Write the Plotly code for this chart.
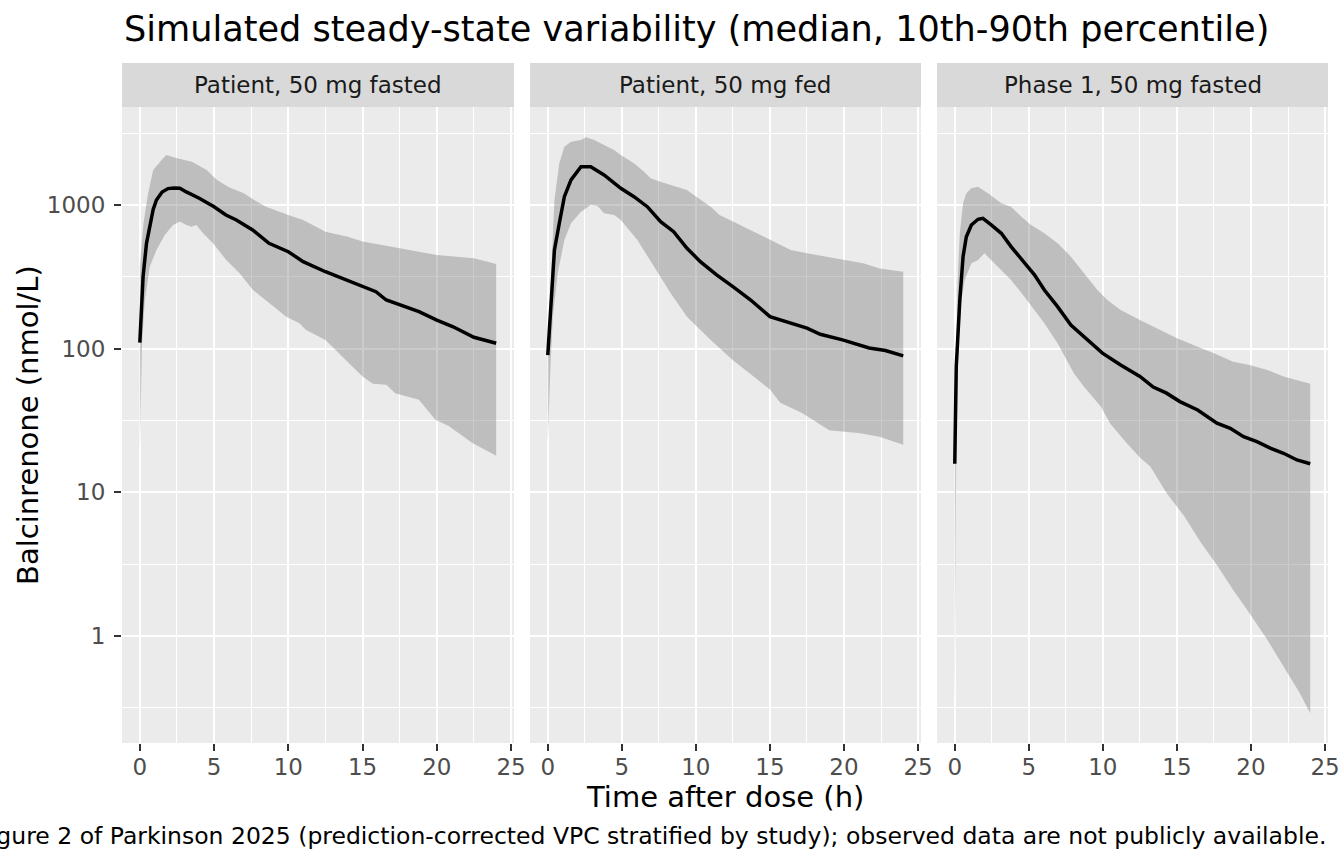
import plotly.graph_objects as go

# ---------------- data ----------------
panel_titles = ["Patient, 50 mg fasted", "Patient, 50 mg fed", "Phase 1, 50 mg fasted"]

x_ticks = [0, 5, 10, 15, 20, 25]
x_minor = [2.5, 7.5, 12.5, 17.5, 22.5]
y_ticks = [1, 10, 100, 1000]
y_tick_labels = ["1", "10", "100", "1000"]
y_minor = [0.3162, 3.162, 31.62, 316.2, 3162]

# Panel 1: Patient, 50 mg fasted
p1_t_med = [0, 0.11, 0.22, 0.45, 0.67, 0.9, 1.12, 1.5, 1.9, 2.3, 2.7, 3.1, 4.0, 5.0, 5.8, 6.5, 7.6, 8.7,
            10.0, 11.0, 12.5, 13.9, 15.0, 15.9, 16.6, 17.5, 18.8, 20.0, 21.1, 22.5, 24.0]
p1_median = [110, 200, 317, 541, 720, 930, 1083, 1230, 1300, 1315, 1310, 1238, 1113, 973, 852, 786, 670, 541,
             473, 403, 343, 301, 270, 249, 218, 201, 181, 158, 142, 120, 109]
p1_t_hi = [0, 0.25, 0.56, 0.9, 1.57, 1.79, 2.5, 3.5, 4.5, 5.2, 6.0, 7.0, 7.7, 8.5, 10.0, 11.0, 12.5, 14.0,
           15.0, 16.3, 17.5, 20.0, 22.5, 24.0]
p1_p90 = [372, 750, 1207, 1754, 2114, 2229, 2114, 2000, 1754, 1493, 1327, 1206, 1083, 973, 852, 786, 652, 601,
          556, 527, 500, 449, 426, 388]
p1_t_lo = [0, 0.15, 0.34, 0.67, 1.12, 1.68, 2.24, 2.69, 3.14, 3.47, 3.81, 4.26, 4.93, 5.82, 6.72, 7.62, 8.51,
           9.86, 10.75, 11.2, 12.5, 13.9, 15.0, 15.7, 16.6, 17.2, 18.8, 19.9, 20.8, 22.4, 24.0]
p1_p10 = [19, 110, 218, 372, 486, 618, 726, 766, 726, 706, 726, 635, 541, 414, 335, 256, 218,
          167, 150, 135, 115, 83, 64, 57, 56, 49, 44, 32, 29, 22, 18]

# Panel 2: Patient, 50 mg fed
p2_t_med = [0, 0.22, 0.45, 0.78, 1.12, 1.57, 2.24, 2.9, 3.8, 4.93, 5.82, 6.72, 7.62, 8.5, 9.4, 10.3, 11.4,
            12.5, 13.7, 15.0, 16.4, 17.5, 18.4, 19.9, 21.7, 22.8, 24.0]
p2_median = [90, 218, 486, 746, 1142, 1493, 1848, 1848, 1618, 1307, 1142, 973, 766, 652, 500, 403, 326,
             270, 218, 167, 150, 139, 126, 115, 101, 97, 89]
p2_t_hi = [0, 0.22, 0.45, 0.78, 1.12, 1.57, 2.24, 2.58, 3.14, 3.8, 4.48, 4.93, 5.82, 6.5, 6.94, 7.6, 8.3,
           9.4, 9.86, 11.0, 11.6, 12.5, 13.9, 15.0, 16.4, 17.5, 18.8, 19.9, 21.3, 22.4, 24.0]
p2_p90 = [95, 335, 1083, 1950, 2547, 2759, 2833, 2958, 2833, 2617, 2416, 2229, 1950, 1706, 1535, 1453, 1377,
          1271, 1174, 973, 852, 766, 652, 570, 486, 461, 437, 414, 393, 362, 343]
p2_t_lo = [0, 0.18, 0.34, 0.67, 1.12, 1.57, 2.24, 2.9, 3.36, 3.8, 4.48, 4.93, 6.05, 7.17, 8.3, 9.4, 11.0,
           12.5, 13.9, 15.0, 15.7, 17.2, 18.1, 19.0, 21.1, 22.4, 24.0]
p2_p10 = [22, 75, 167, 335, 570, 746, 898, 1000, 985, 875, 852, 786, 570, 372, 243, 167, 115,
          83, 64, 52, 42, 35.5, 31, 27, 25.8, 24.4, 21.4]

# Panel 3: Phase 1, 50 mg fasted
p3_t_med = [0, 0.1, 0.34, 0.56, 0.78, 1.12, 1.57, 1.9, 2.46, 3.14, 3.8, 4.7, 5.38, 6.05, 6.94, 7.84, 8.74,
            9.97, 11.2, 12.5, 13.4, 14.3, 15.2, 16.4, 17.7, 18.6, 19.5, 20.4, 21.3, 22.2, 23.1, 24.0]
p3_median = [15.8, 75, 218, 437, 601, 726, 795, 808, 726, 635, 513, 393, 326, 256, 196, 146, 121,
             93, 77, 64, 54, 49, 42.8, 37.4, 30.3, 27.9, 24.4, 22.5, 20.3, 18.7, 16.8, 15.8]
p3_t_hi = [0, 0.1, 0.18, 0.34, 0.56, 0.78, 1.12, 1.57, 2.24, 3.14, 3.8, 4.48, 5.15, 6.05, 6.94, 7.84, 8.74,
           9.63, 10.3, 11.2, 12.5, 13.9, 15.0, 16.4, 17.5, 18.8, 19.9, 21.1, 22.2, 24.0]
p3_p90 = [18, 128, 270, 635, 1027, 1206, 1307, 1342, 1206, 1027, 973, 830, 726, 635, 541, 437, 335,
          256, 218, 186, 158, 135, 118, 103, 93, 81, 77, 71, 64, 57]
p3_t_lo = [0, 0.1, 0.25, 0.45, 0.67, 1.12, 1.57, 2.0, 2.46, 3.14, 3.8, 4.7, 5.38, 6.05, 6.94, 8.06, 8.74,
           9.86, 10.5, 11.6, 12.5, 13.2, 14.3, 15.5, 16.6, 17.7, 18.8, 19.9, 21.1, 22.2, 23.3, 24.0]
p3_p10 = [0.29, 20, 110, 218, 301, 393, 414, 461, 414, 353, 301, 230, 186, 150, 109, 67, 54,
          39.5, 30, 22, 17.5, 15.1, 9.9, 6.8, 4.5, 3.12, 2.09, 1.44, 0.94, 0.61, 0.40, 0.29]

panels = [
    (p1_t_med, p1_median, p1_t_hi, p1_p90, p1_t_lo, p1_p10),
    (p2_t_med, p2_median, p2_t_hi, p2_p90, p2_t_lo, p2_p10),
    (p3_t_med, p3_median, p3_t_hi, p3_p90, p3_t_lo, p3_p10),
]

# ---------------- figure ----------------
W, H = 1344, 864
FONT = "DejaVu Sans"
x_domains = [(122 / W, 514 / W), (530 / W, 921 / W), (937 / W, 1328 / W)]
y_domain = (1 - 743 / H, 1 - 107 / H)
strip_top = 1 - 63 / H

fig = go.Figure()
for i, (tm, med, th, hi, tl, lo) in enumerate(panels):
    xa = "x" if i == 0 else f"x{i + 1}"
    ya = "y" if i == 0 else f"y{i + 1}"
    band_x = list(th) + list(reversed(tl))
    band_y = list(hi) + list(reversed(lo))
    fig.add_trace(go.Scatter(x=band_x, y=band_y, fill="toself", mode="lines",
                             line=dict(width=0), fillcolor="rgba(110,110,110,0.36)",
                             hoverinfo="skip", showlegend=False, xaxis=xa, yaxis=ya))
    fig.add_trace(go.Scatter(x=tm, y=med, mode="lines", line=dict(color="black", width=3.5),
                             showlegend=False, xaxis=xa, yaxis=ya))

layout = dict(
    width=W, height=H, autosize=False, margin=dict(l=0, r=0, t=0, b=0, pad=0, autoexpand=False),
    paper_bgcolor="white", plot_bgcolor="#EBEBEB",
    font=dict(family=FONT, color="#4D4D4D", size=23),
    showlegend=False,
)

for i in range(3):
    sfx = "" if i == 0 else str(i + 1)
    layout["xaxis" + sfx] = dict(
        domain=list(x_domains[i]), anchor="y" + sfx, range=[-1.2, 25.2], automargin=False,
        tickmode="array", tickvals=x_ticks, ticktext=[str(v) for v in x_ticks],
        showgrid=True, gridcolor="white", gridwidth=2, zeroline=False,
        ticks="outside", ticklen=7, tickwidth=2, tickcolor="#333333",
        ticklabelstandoff=-4,
        tickfont=dict(family=FONT, size=23, color="#4D4D4D"),
        minor=dict(tickmode="array", tickvals=x_minor, showgrid=True, gridcolor="white",
                   gridwidth=1.1, ticks=""),
        showline=False, fixedrange=True,
    )
    layout["yaxis" + sfx] = dict(
        domain=list(y_domain), anchor="x" + sfx, type="log", range=[-0.745, 3.682],
        automargin=False,
        tickmode="array", tickvals=y_ticks, ticktext=y_tick_labels,
        showticklabels=(i == 0),
        showgrid=True, gridcolor="white", gridwidth=2, zeroline=False,
        ticks="outside" if i == 0 else "", ticklen=7, tickwidth=2, tickcolor="#333333",
        ticklabelstandoff=4,
        tickfont=dict(family=FONT, size=23, color="#4D4D4D"),
        minor=dict(tickmode="array", tickvals=y_minor, showgrid=True, gridcolor="white",
                   gridwidth=1.1, ticks=""),
        showline=False, fixedrange=True,
    )

shapes = []
annotations = []
for i in range(3):
    x0, x1 = x_domains[i]
    shapes.append(dict(type="rect", xref="paper", yref="paper", x0=x0, x1=x1,
                       y0=y_domain[1], y1=strip_top, fillcolor="#D9D9D9", line=dict(width=0),
                       layer="below"))
    annotations.append(dict(text=panel_titles[i], xref="paper", yref="paper",
                            x=(x0 + x1) / 2, y=(y_domain[1] + strip_top) / 2,
                            xanchor="center", yanchor="middle", showarrow=False,
                            font=dict(family=FONT, size=23, color="#1A1A1A")))

annotations += [
    dict(text="Simulated steady-state variability (median, 10th-90th percentile)",
         xref="paper", yref="paper", x=122 / W, y=1 - 29 / H, xanchor="left", yanchor="middle",
         showarrow=False, font=dict(family=FONT, size=35.1, color="black")),
    dict(text="Time after dose (h)", xref="paper", yref="paper", x=725 / W, y=1 - 797 / H,
         xanchor="center", yanchor="middle", showarrow=False,
         font=dict(family=FONT, size=29, color="black")),
    dict(text="Balcinrenone (nmol/L)", xref="paper", yref="paper", x=28 / W, y=1 - 425 / H,
         xanchor="center", yanchor="middle", textangle=-90, showarrow=False,
         font=dict(family=FONT, size=29, color="black")),
    dict(text="Figure 2 of Parkinson 2025 (prediction-corrected VPC stratified by study); "
              "observed data are not publicly available.",
         xref="paper", yref="paper", x=1328 / W, y=1 - 836 / H, xanchor="right", yanchor="middle",
         showarrow=False, font=dict(family=FONT, size=23.5, color="black")),
]

layout["shapes"] = shapes
layout["annotations"] = annotations
fig.update_layout(**layout)

fig.write_html(
    "out.html", config={"displayModeBar": False, "responsive": False},
    post_script=("document.documentElement.style.margin='0';"
                 "document.documentElement.style.padding='0';"
                 "document.documentElement.style.overflow='hidden';"
                 "document.body.style.margin='0';document.body.style.padding='0';"
                 "document.body.style.overflow='hidden';"),
)
